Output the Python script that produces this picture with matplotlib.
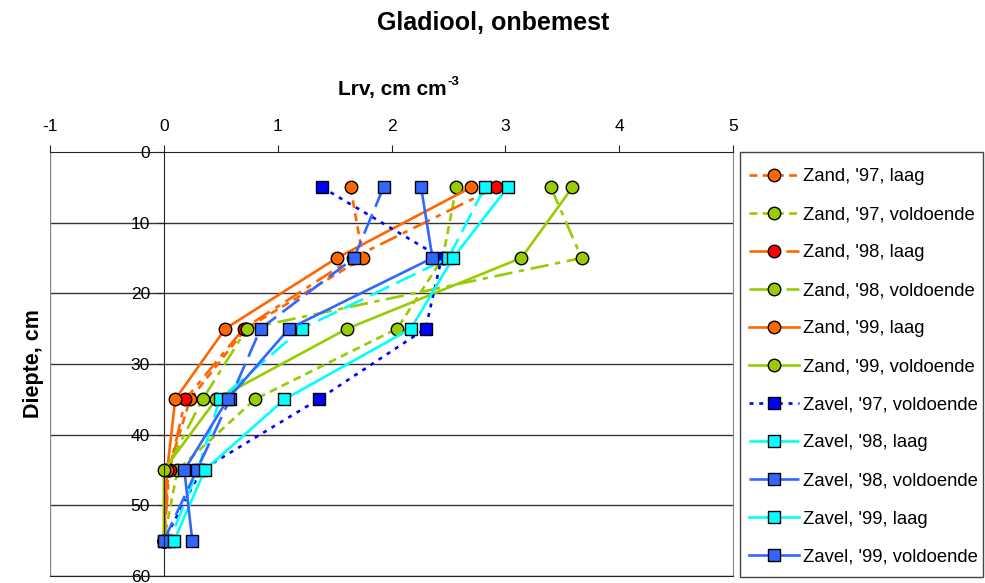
import matplotlib
matplotlib.use("Agg")
import matplotlib.pyplot as plt
from matplotlib.patches import Rectangle

plt.rcParams['font.family'] = ['Liberation Sans', 'DejaVu Sans']
plt.rcParams['axes.unicode_minus'] = False

# depth (cm) and root length density per series
depth = [5, 15, 25, 35, 45, 55]

zand97_laag = [1.64, 1.75, 0.72, 0.23, 0.04, 0.0]
zand97_vold = [2.57, 2.45, 2.05, 0.80, 0.12, 0.0]
zand98_laag = [2.92, 1.66, 0.70, 0.19, 0.05, 0.0]
zand98_vold = [3.40, 3.67, 0.73, 0.34, 0.02, 0.0]
zand99_laag = [2.70, 1.52, 0.54, 0.10, 0.03, 0.0]
zand99_vold = [3.59, 3.14, 1.61, 0.46, 0.0, 0.0]
zavel97_vold = [1.39, 2.44, 2.30, 1.36, 0.33, 0.0]
zavel98_laag = [2.82, 2.50, 1.21, 0.49, 0.30, 0.05]
zavel98_vold = [1.93, 1.67, 0.85, 0.58, 0.29, 0.0]
zavel99_laag = [3.02, 2.54, 2.17, 1.06, 0.36, 0.09]
zavel99_vold = [2.26, 2.36, 1.10, 0.56, 0.18, 0.25]

labels = ["Zand, '97, laag", "Zand, '97, voldoende", "Zand, '98, laag",
          "Zand, '98, voldoende", "Zand, '99, laag", "Zand, '99, voldoende",
          "Zavel, '97, voldoende", "Zavel, '98, laag", "Zavel, '98, voldoende",
          "Zavel, '99, laag", "Zavel, '99, voldoende"]
values = [zand97_laag, zand97_vold, zand98_laag, zand98_vold, zand99_laag,
          zand99_vold, zavel97_vold, zavel98_laag, zavel98_vold, zavel99_laag,
          zavel99_vold]

orange = '#FF6600'
green = '#99CC00'
dash = (0, (3, 2))
dashdot = (0, (7, 2.5, 2, 2.5))
dot = (0, (1.5, 2.2))
longdash = (0, (8, 3))
styles = [
    (orange, dash, 'o', orange),
    (green, dash, 'o', green),
    (orange, dashdot, 'o', '#FF0000'),
    (green, dashdot, 'o', green),
    (orange, '-', 'o', orange),
    (green, '-', 'o', green),
    ('#0000FF', dot, 's', '#0000FF'),
    ('#00FFFF', longdash, 's', '#00FFFF'),
    ('#3366FF', longdash, 's', '#3366FF'),
    ('#00FFFF', '-', 's', '#00FFFF'),
    ('#3366FF', '-', 's', '#3366FF'),
]

fig = plt.figure(figsize=(9.85, 5.83), dpi=100)
ax = fig.add_axes([50 / 985, 1 - 576 / 583, 683 / 985, 424 / 583])

for vals, lab, (col, ls, mk, mfc) in zip(values, labels, styles):
    ax.plot(vals, depth, color=col, linestyle=ls, linewidth=1.9, marker=mk,
            markersize=9 if mk == 'o' else 8.5, markerfacecolor=mfc,
            markeredgecolor='black', markeredgewidth=1.0, label=lab)

ax.set_xlim(-1, 5)
ax.set_ylim(60, 0)
ax.set_xticks(range(-1, 6))
ax.set_yticks(range(0, 61, 10))
ax.xaxis.tick_top()
for y in range(10, 61, 10):
    ax.axhline(y, color='#333333', linewidth=1.0, zorder=0.5)
ax.axvline(-1, color='#888888', linewidth=1.0, zorder=0.5)

ax.spines['left'].set_position(('data', 0))
ax.spines['left'].set_color('#222222')
ax.spines['top'].set_color('#222222')
ax.spines['right'].set_color('#888888')
ax.spines['bottom'].set_color('#222222')
ax.tick_params(axis='x', direction='out', length=5, pad=8, labelsize=12.5,
               colors='#222222', labelcolor='black')
ax.tick_params(axis='y', direction='out', length=5, pad=5, labelsize=12.5,
               colors='#222222', labelcolor='black')

fig.text(493 / 985, 1 - 23 / 583, 'Gladiool, onbemest', ha='center',
         va='center', fontsize=18, fontweight='bold')
fig.text(447 / 985, 1 - 90 / 583, 'Lrv, cm cm', ha='right',
         va='center', fontsize=15, fontweight='bold')
fig.text(447 / 985, 1 - 82 / 583, '-3', ha='left',
         va='center', fontsize=9.5, fontweight='bold')
fig.text(34 / 985, 1 - 364 / 583, 'Diepte, cm', ha='center', va='center',
         rotation=90, fontsize=15.5, fontweight='bold')

# legend box drawn separately so it can match the reference frame
fig.patches.append(Rectangle((740 / 985, 1 - 577 / 583), 243 / 985, 425 / 583,
                             transform=fig.transFigure, facecolor='white',
                             edgecolor='#444444', linewidth=1.0, zorder=0))
leg = fig.legend(loc='upper left', bbox_to_anchor=(749 / 985, 1 - 168 / 583),
                 borderaxespad=0, borderpad=0, fontsize=13.3,
                 handlelength=2.7, handletextpad=0.22, labelspacing=1.14,
                 frameon=False)

fig.savefig('out.png', dpi=100)
